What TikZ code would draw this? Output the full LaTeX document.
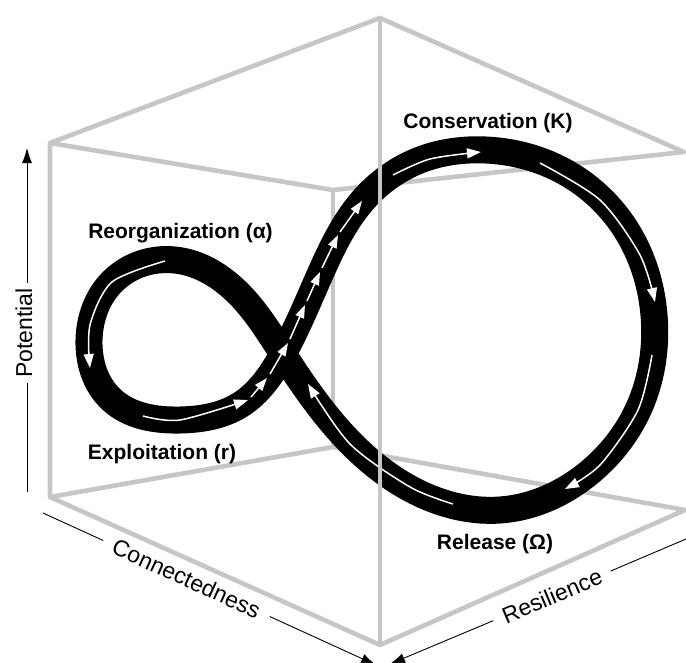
\documentclass[tikz,border=0pt]{standalone}
\usepackage{fontspec}
\setmainfont{Liberation Sans}
\usetikzlibrary{arrows.meta,hobby}
\definecolor{cubegray}{RGB}{198,198,198}
\begin{document}
\begin{tikzpicture}[x=1pt,y=-1pt,
  cube/.style={draw=cubegray,line width=4.6pt,line join=round,line cap=round},
  band/.style={draw=black,line width=27pt},
  warr/.style={draw=white,line width=1.5pt,-{Triangle[length=14pt,width=10pt]}},
  sarr/.style={draw=white,line width=1.5pt,-{Triangle[length=13pt,width=9pt]}},
  phase/.style={font=\fontsize{21}{25}\selectfont\bfseries,anchor=base,inner sep=0pt},
  axislabel/.style={font=\fontsize{23}{27}\selectfont,inner ysep=2pt},
  axisline/.style={draw=black,line width=0.9pt},
  axisarrow/.style={axisline,-{Latex[length=15pt,width=10pt]}}
]
\useasboundingbox (0,0) rectangle (686,662);
\clip (0,0) rectangle (686,662);
% cube corners
\coordinate (A) at (50,143);
\coordinate (B) at (380,18);
\coordinate (C) at (684,152);
\coordinate (D) at (333,190);
\coordinate (E) at (50,497);
\coordinate (F) at (380,645);
\coordinate (G) at (685,510);
\coordinate (H) at (333,447);
\draw[cube] (E) -- (A) -- (B) -- (C) -- (D) -- (A);
\draw[cube] (D) -- (H);
\draw[cube] (E) -- (F) -- (G) -- (H) -- cycle;
% adaptive cycle band
\draw[band, use Hobby shortcut, closed=true]
 (175,260) .. (112,282) .. (89,340) .. (112,400) .. (180,420) .. (240,405)
 .. (283,354) .. (322,270) .. (365,198) .. (420,160) .. (486,150)
 .. (565,172) .. (625,228) .. (654,315) .. (638,410) .. (590,472)
 .. (500,510) .. (430,498) .. (360,452) .. (283,354) .. (240,295);
% white flow arrows
\draw[warr] plot[smooth] coordinates {(165,261) (112,282) (90,325) (90,368)};
\draw[warr] plot[smooth] coordinates {(143,416) (180,420) (248,400)};
\coordinate (s0) at (251,397); \coordinate (s1) at (267,378);
\coordinate (s2) at (270,374); \coordinate (s3) at (288,343);
\coordinate (s4) at (290,339); \coordinate (s5) at (305,305);
\coordinate (s6) at (307,301); \coordinate (s7) at (320,272);
\coordinate (s8) at (322,268); \coordinate (s9) at (338,235);
\coordinate (s10) at (340,232); \coordinate (s11) at (362,201);
\draw[sarr] (s0) -- (s1);
\draw[sarr] (s2) -- (s3);
\draw[sarr] (s4) -- (s5);
\draw[sarr] (s6) -- (s7);
\draw[sarr] (s8) -- (s9);
\draw[sarr] (s10) -- (s11);
\draw[warr] plot[smooth] coordinates {(393,175) (430,159) (481,152)};
\draw[warr] plot[smooth] coordinates {(540,163) (600,200) (640,255) (655,302)};
\draw[warr] plot[smooth] coordinates {(652,355) (638,410) (600,465) (565,489)};
\draw[warr] plot[smooth] coordinates {(453,504) (410,487) (350,444) (308,384)};
% front edge of the cube, on top
\draw[cube] (B) -- (F);
% phase labels
\node[phase] (reo) at (180.5,238) {Reorganization (α)};
\node[phase] (con) at (488,128) {Conservation (K)};
\node[phase] (expl) at (162,459) {Exploitation (r)};
\node[phase] (rel) at (495,549) {Release (Ω)};
% axes
\node[axislabel,rotate=90,inner xsep=5.5pt] (pot) at (24,333) {Potential};
\coordinate (p0) at (27,492);
\coordinate (p1) at (27,148);
\draw[axisline] (p0) -- (p0 |- pot.west);
\draw[axisarrow] (p1 |- pot.east) -- (p1);
\node[axislabel,rotate=-24.5,inner xsep=11.5pt] (conn) at (186.5,578.5) {Connectedness};
\coordinate (c0) at (43,513);
\coordinate (c1) at (376,665);
\draw[axisline] (c0) -- (conn);
\draw[axisarrow] (conn) -- (c1);
\node[axislabel,rotate=22.8,inner xsep=10.5pt] (res) at (552,596) {Resilience};
\coordinate (r0) at (686,539);
\coordinate (r1) at (390,664);
\draw[axisline] (r0) -- (res);
\draw[axisarrow] (res) -- (r1);
\end{tikzpicture}
\end{document}
